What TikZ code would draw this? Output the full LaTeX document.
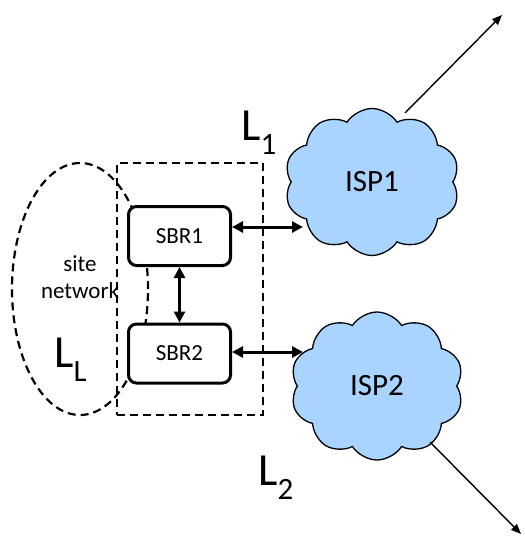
\documentclass[tikz,border=0pt]{standalone}
\usepackage{fontspec}
\setmainfont{Carlito}
\usepackage{tikz}
\usetikzlibrary{positioning, calc, arrows.meta, shapes}
\usepackage{xcolor}
\definecolor{ispblue}{RGB}{168,212,255}
\tikzset{router/.style={draw, line width=3pt, rounded corners=8pt, fill=white, minimum width=102pt, minimum height=59pt, font=\fontsize{23}{27}\selectfont}}
\tikzset{isp/.style={cloud, cloud puffs=10, cloud puff arc=115, cloud ignores aspect, draw, line width=1.3pt, fill=ispblue, font=\fontsize{31}{36}\selectfont}}
\tikzset{link/.style={{Triangle[length=11pt,width=11pt]}-{Triangle[length=11pt,width=11pt]}, line width=3pt}}
\tikzset{uplink/.style={-{Triangle[length=10pt,width=8pt]}, line width=1.4pt}}
\tikzset{region/.style={draw, line width=2.2pt, dash pattern=on 8pt off 5pt}}
\newcommand{\linklabel}[1]{\fontsize{46}{50}\selectfont L\raisebox{-14pt}{\fontsize{31}{34}\selectfont #1}}

\begin{document}
\begin{tikzpicture}[x=1pt, y=-1pt]
      \useasboundingbox (0,0) rectangle (525,536);

      \node[region, ellipse, minimum width=136pt, minimum height=252pt] (site) at (80,289) {};
      \node[region, minimum width=146pt, minimum height=252pt] (border) at (190,289) {};
      \node[align=center, font=\fontsize{23}{27}\selectfont] (sitelbl) at (80,277) {site\\network};

      \node[router] (sbr1) at (179.5,236) {SBR1};
      \node[router] (sbr2) at (179.5,353.5) {SBR2};

      \node[isp, minimum width=175pt, minimum height=147pt] (isp1) at (372,182) {\raisebox{-5pt}{ISP1}};
      \node[isp, minimum width=173pt, minimum height=148pt] (isp2) at (377,386) {\raisebox{-3pt}{ISP2}};

      \coordinate (in1) at (303,227);
      \coordinate (in2) at (303,352);
      \coordinate (out1) at (502,15);
      \coordinate (out2) at (521,534);

      \draw[link] (sbr1.east |- in1) -- (in1);
      \draw[link] (sbr2.east |- in2) -- (in2);
      \draw[link] (sbr1) -- (sbr2);

      \draw[uplink] ($(isp1.center)+(33,-69)$) -- (out1);
      \draw[uplink] ($(isp2.center)+(53,56)$) -- (out2);

      \node[anchor=base west, inner sep=0] (l1) at (241,140) {\linklabel{1}};
      \node[anchor=base west, inner sep=0] (l2) at (258,485) {\linklabel{2}};
      \node[anchor=base west, inner sep=0] (ll) at (54,367) {\linklabel{L}};

    \end{tikzpicture}
\end{document}
